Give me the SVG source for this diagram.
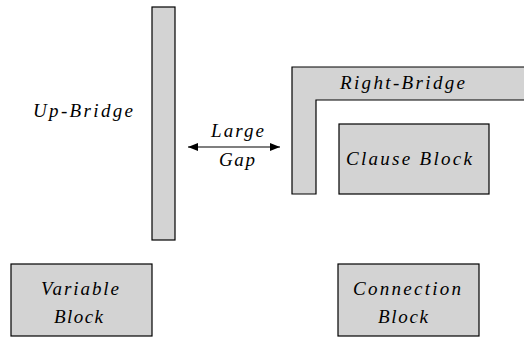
<svg xmlns="http://www.w3.org/2000/svg" width="524" height="339" viewBox="0 0 524 339">
<defs>
<style>
.blk{fill:#d3d3d3;stroke:#000;stroke-width:1.2}
.t{font-family:"Liberation Serif","Times New Roman",serif;font-style:italic;font-size:19px;fill:#000;text-anchor:start}
</style>
<marker id="ah" viewBox="0 0 10 8" refX="10" refY="4" markerWidth="10" markerHeight="8" markerUnits="userSpaceOnUse" orient="auto-start-reverse">
<path d="M0,0 L10,4 L0,8 Z" fill="#000"/>
</marker>
</defs>
<rect width="524" height="339" fill="#fff"/>
<g id="up-bridge">
<rect class="blk" x="152" y="7" width="23" height="233"/>
<text class="t" x="33" y="117" textLength="100" lengthAdjust="spacing">Up-Bridge</text>
</g>
<g id="right-bridge">
<path class="blk" d="M292,67 L526,67 L526,100 L316,100 L316,194 L292,194 Z"/>
<text class="t" x="340" y="89" textLength="125" lengthAdjust="spacing">Right-Bridge</text>
</g>
<g id="clause-block">
<rect class="blk" x="339" y="124" width="150" height="70"/>
<text class="t" x="346" y="165" textLength="126" lengthAdjust="spacing">Clause Block</text>
</g>
<g id="variable-block">
<rect class="blk" x="11" y="264" width="141" height="72"/>
<text class="t" x="41" y="295" textLength="78" lengthAdjust="spacing">Variable</text>
<text class="t" x="54" y="323" textLength="49" lengthAdjust="spacing">Block</text>
</g>
<g id="connection-block">
<rect class="blk" x="338" y="264" width="141" height="72"/>
<text class="t" x="353" y="295" textLength="108" lengthAdjust="spacing">Connection</text>
<text class="t" x="378" y="323" textLength="50" lengthAdjust="spacing">Block</text>
</g>
<g id="connectors">
<line x1="188" y1="147" x2="280" y2="147" stroke="#000" stroke-width="1.2" marker-start="url(#ah)" marker-end="url(#ah)"/>
<text class="t" x="211" y="137" textLength="53" lengthAdjust="spacing">Large</text>
<text class="t" x="219" y="166" textLength="36" lengthAdjust="spacing">Gap</text>
</g>
</svg>
